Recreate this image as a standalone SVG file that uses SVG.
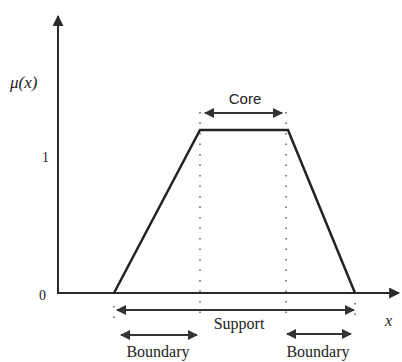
<svg xmlns="http://www.w3.org/2000/svg" width="402" height="362" viewBox="0 0 402 362">
<style>
.ax{stroke:#2a2a2a;stroke-width:2;fill:none}
.mf{stroke:#222;stroke-width:2.5;fill:none}
.dot{stroke:#444;stroke-width:1.3;stroke-dasharray:1.5 9;fill:none}
.dim{stroke:#333;stroke-width:2;fill:none;marker-start:url(#ah);marker-end:url(#ah)}
.serif{font-family:"Liberation Serif","Times New Roman",serif;fill:#222}
.sans{font-family:"Liberation Sans",Arial,sans-serif;fill:#222}
</style>
<defs>
<marker id="ah" viewBox="0 0 10 10" refX="9" refY="5" markerWidth="6.5" markerHeight="5" orient="auto-start-reverse" markerUnits="strokeWidth">
<path d="M0,0 L10,5 L0,10 z" fill="#333"/>
</marker>
<marker id="axh" viewBox="0 0 10 10" refX="9" refY="5" markerWidth="7" markerHeight="5.5" orient="auto" markerUnits="strokeWidth">
<path d="M0,0 L10,5 L0,10 z" fill="#2a2a2a"/>
</marker>
</defs>
<g id="axes">
<line class="ax" x1="58" y1="294" x2="58" y2="16" marker-end="url(#axh)"/>
<line class="ax" x1="58" y1="293" x2="399" y2="293" marker-end="url(#axh)"/>
<text class="serif" x="10" y="88" font-size="17" font-style="italic">μ(x)</text>
<text class="serif" x="42" y="162" font-size="14">1</text>
<text class="serif" x="39" y="300" font-size="14">0</text>
<text class="serif" x="385" y="326" font-size="16" font-style="italic">x</text>
</g>
<g id="membership">
<polyline class="mf" points="114,293 200,130 288,130 355,293"/>
</g>
<g id="guides">
<line class="dot" x1="200" y1="112" x2="200" y2="322"/>
<line class="dot" x1="286" y1="112" x2="286" y2="322"/>
<line class="dot" x1="114" y1="306" x2="114" y2="322"/>
<line class="dot" x1="355" y1="303" x2="355" y2="322"/>
</g>
<g id="connectors">
<line class="dim" x1="205" y1="113" x2="282" y2="113"/>
<line class="dim" x1="117" y1="310" x2="354" y2="310"/>
<line class="dim" x1="121" y1="335" x2="197" y2="335"/>
<line class="dim" x1="287" y1="334" x2="351" y2="334"/>
</g>
<g id="labels">
<text class="sans" x="245" y="104" font-size="15" text-anchor="middle">Core</text>
<rect x="206" y="314" width="66" height="18" fill="#fff"/>
<text class="serif" x="239" y="329" font-size="16" text-anchor="middle">Support</text>
<text class="serif" x="158" y="357" font-size="16" text-anchor="middle">Boundary</text>
<text class="serif" x="318" y="357" font-size="16" text-anchor="middle">Boundary</text>
</g>
</svg>
